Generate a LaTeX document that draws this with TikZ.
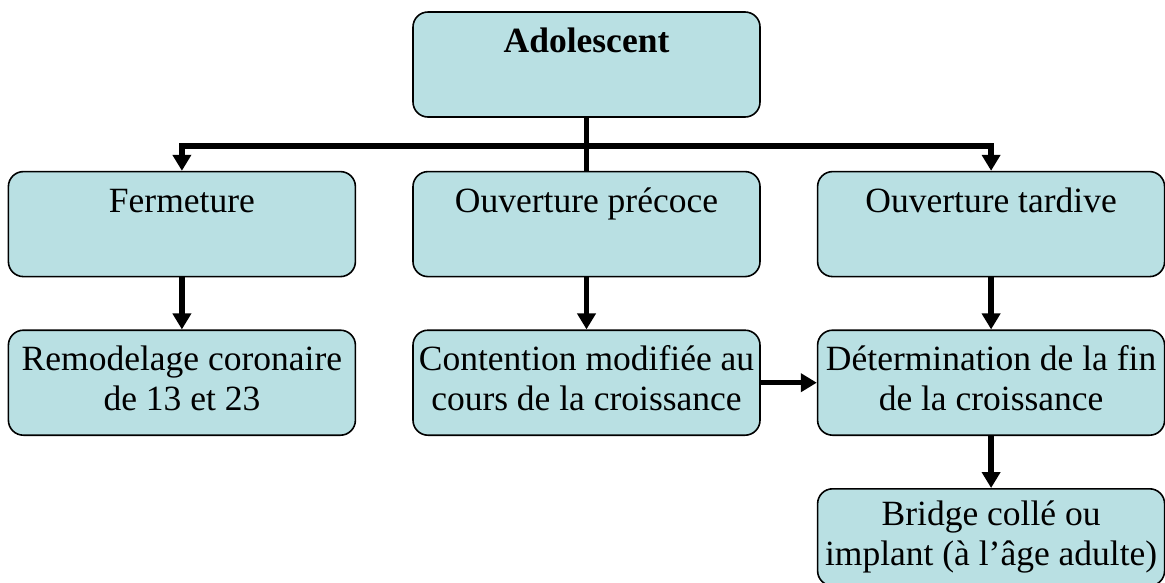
\documentclass[tikz,border=0pt]{standalone}
\usepackage{fontspec}
\setmainfont{Liberation Serif}
\usetikzlibrary{arrows.meta,positioning}
\definecolor{boxcyan}{RGB}{185,224,227}

\begin{document}
\begin{tikzpicture}[
  node distance=52pt and 56pt,
  >={Triangle[width=18pt,length=16pt]},
  every node/.style={font=\fontsize{35.5pt}{40pt}\selectfont, align=center},
  box/.style={draw, line width=1.6pt, rounded corners=15pt, fill=boxcyan,
    minimum width=347pt, minimum height=105pt, inner sep=0pt},
  link/.style={line width=5.5pt}
]
\useasboundingbox (0,0) rectangle (1165pt,-582pt);

% Nodes (haut et ligne 2)
\node[box] (ado) at (586.5pt,-64.5pt) {\textbf{Adolescent}\strut\\ \strut};
\node[box, below=53pt of ado] (ouvp) {Ouverture précoce\strut\\ \strut};
\node[box, left=of ouvp] (ferm) {Fermeture\strut\\ \strut};
\node[box, right=of ouvp] (ouvt) {Ouverture tardive\strut\\ \strut};

% Ligne 3
\node[box, below=of ferm] (remod) {Remodelage coronaire\strut\\ de 13 et 23\strut};
\node[box, below=of ouvp] (cont) {Contention modifiée au\strut\\ cours de la croissance\strut};
\node[box, below=of ouvt] (determ) {Détermination de la fin\strut\\ de la croissance\strut};

% Ligne 4
\node[box, below=of determ, minimum height=97pt] (bridge) {Bridge collé ou\strut\\ implant (à l’âge adulte)\strut};

% Connecteurs
\coordinate[below=28pt of ado.south] (fork);
\draw[link] (ado) -- (ouvp);
\draw[link, ->] (fork) -| (ferm.north);
\draw[link, ->] (fork) -| (ouvt.north);
\draw[link, ->] (ferm) -- (remod);
\draw[link, ->] (ouvp) -- (cont);
\draw[link, ->] (ouvt) -- (determ);
\draw[link, ->] (cont) -- (determ);
\draw[link, ->] (determ) -- (bridge);

\end{tikzpicture}
\end{document}
